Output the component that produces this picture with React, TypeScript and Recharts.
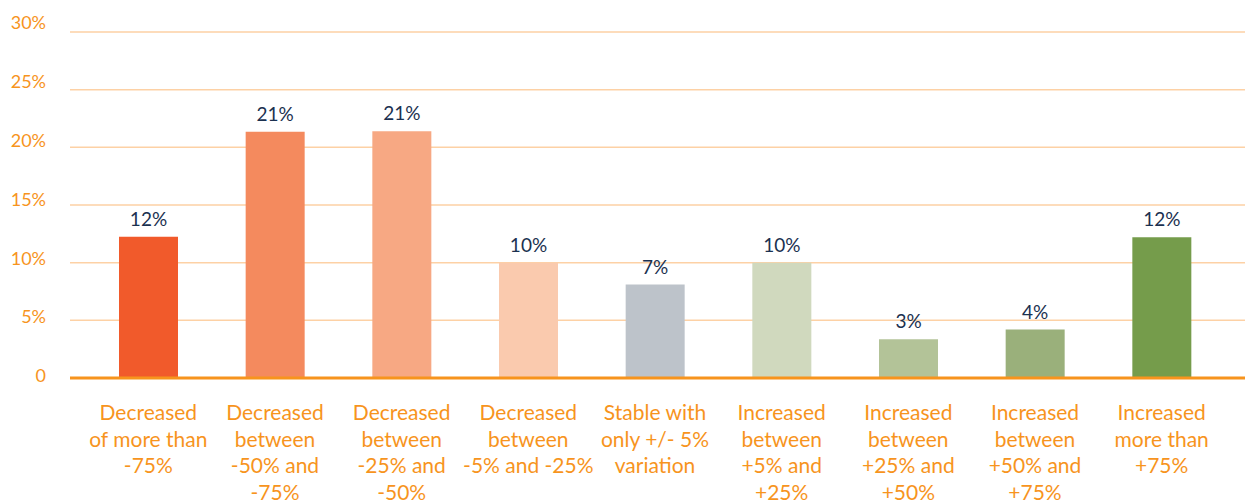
import { Bar, BarChart, CartesianGrid, Cell, LabelList, XAxis, YAxis } from "recharts";

const CATEGORY_LINES: string[][] = [
  ["Decreased", "of more than", "-75%"],
  ["Decreased", "between", "-50% and", "-75%"],
  ["Decreased", "between", "-25% and", "-50%"],
  ["Decreased", "between", "-5% and -25%"],
  ["Stable with", "only +/- 5%", "variation"],
  ["Increased", "between", "+5% and", "+25%"],
  ["Increased", "between", "+25% and", "+50%"],
  ["Increased", "between", "+50% and", "+75%"],
  ["Increased", "more than", "+75%"],
];

const VALUES = [12.25, 21.35, 21.4, 10.0, 8.1, 10.0, 3.35, 4.2, 12.2];
const VALUE_LABELS = ["12%", "21%", "21%", "10%", "7%", "10%", "3%", "4%", "12%"];
const Y_TICKS = [0, 5, 10, 15, 20, 25, 30];

const BAR_COLORS = [
  "#f15a2b", "#f48a5e", "#f7a883", "#facaae", "#bdc3ca",
  "#d0d9be", "#b3c398", "#9ab07b", "#759c4b",
];

const ORANGE = "#f7941d";
const NAVY = "#1b3150";
const FONT = "Lato, sans-serif";

const data = CATEGORY_LINES.map((lines, i) => ({
  name: lines.join(" "),
  lines,
  value: VALUES[i],
  label: VALUE_LABELS[i],
}));

function XTick(props: any) {
  const { x, index } = props;
  const lines = CATEGORY_LINES[index] ?? [];
  // first line centred ~35px under the axis line (axis at y=378)
  return (
    <text x={x} y={413} textAnchor="middle" fill={ORANGE} fontSize={21} fontFamily={FONT}>
      {lines.map((l, i) => (
        <tspan key={i} x={x} y={413 + i * 26.5} dy="0.35em">
          {l}
        </tspan>
      ))}
    </text>
  );
}

function YTick(props: any) {
  const { y, payload } = props;
  const v = payload.value as number;
  return (
    <text
      x={46}
      y={y - 2 - v * (7 / 30)}
      dy="0.35em"
      textAnchor="end"
      fill={ORANGE}
      fontSize={18}
      fontFamily={FONT}
    >
      {v === 0 ? "0" : `${v}%`}
    </text>
  );
}

export default function App() {
  return (
    <div style={{ width: 1245, height: 502 }}>
      <style>{`body{margin:0}`}</style>
      <BarChart
        width={1245}
        height={502}
        data={data}
        margin={{ top: 32, right: 0, bottom: 0, left: 0 }}
      >
        <CartesianGrid vertical={false} stroke="#fdd1a5" strokeWidth={1.5} />
        <XAxis
          dataKey="name"
          interval={0}
          height={124}
          padding={{ left: 15, right: 20 }}
          tickLine={false}
          axisLine={{ stroke: ORANGE, strokeWidth: 3 }}
          tick={<XTick />}
        />
        <YAxis
          width={70}
          domain={[0, 30]}
          ticks={Y_TICKS}
          axisLine={false}
          tickLine={false}
          tick={<YTick />}
        />
        <Bar dataKey="value" barSize={59} isAnimationActive={false}>
          {data.map((_, i) => (
            <Cell key={i} fill={BAR_COLORS[i]} />
          ))}
          <LabelList
            dataKey="label"
            position="top"
            offset={11}
            fill={NAVY}
            fontSize={19}
            fontFamily={FONT}
          />
        </Bar>
      </BarChart>
    </div>
  );
}
